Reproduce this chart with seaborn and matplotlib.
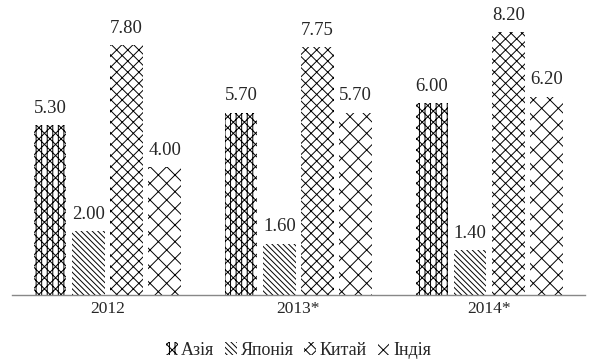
import seaborn as sns
import matplotlib.pyplot as plt
import pandas as pd

years = ['2012', '2013*', '2014*']
regions = ['Азія', 'Японія', 'Китай', 'Індія']
asia = [5.30, 5.70, 6.00]
japan = [2.00, 1.60, 1.40]
china = [7.80, 7.75, 8.20]
india = [4.00, 5.70, 6.20]

df = pd.DataFrame({
    'year': years * 4,
    'region': [r for r in regions for _ in years],
    'value': asia + japan + china + india,
})

sns.set_style('white')
plt.rcParams['font.family'] = ['Liberation Serif', 'DejaVu Serif']
plt.rcParams['hatch.linewidth'] = 0.7

fig = plt.figure(figsize=(5.98, 3.62), dpi=100)
ax = fig.add_axes([0.02, 0.185, 0.958, 0.796])
sns.barplot(data=df, x='year', y='value', hue='region', order=years, hue_order=regions,
            color='white', width=0.8, gap=0.15, ax=ax, legend=True)

hatches = ['|||xxx', '\\' * 6, 'xxx', 'xx']
for cont, h in zip(ax.containers, hatches):
    for bar in cont:
        bar.set_hatch(h)
        bar.set_facecolor('white')
        bar.set_edgecolor('black')
        bar.set_linewidth(0)
    ax.bar_label(cont, fmt='%.2f', padding=6, fontsize=13.5)

ax.set_ylim(0, 9)
ax.set_xlim(-0.5, 2.5)
ax.set_yticks([])
ax.set_xlabel('')
ax.set_ylabel('')
ax.tick_params(axis='x', length=0, labelsize=12.5, pad=4)
for s in ['top', 'right', 'left']:
    ax.spines[s].set_visible(False)
ax.spines['bottom'].set_color('#888888')
ax.spines['bottom'].set_linewidth(1)

handles, labels = ax.get_legend_handles_labels()
for hd, h in zip(handles, hatches):
    hd.set_hatch(h)
    hd.set_facecolor('white')
    hd.set_edgecolor('black')
    hd.set_linewidth(0)
ax.legend(handles, labels, loc='upper center', bbox_to_anchor=(0.5, -0.105), ncol=4,
          frameon=False, fontsize=13, handlelength=0.65, handleheight=0.75,
          handletextpad=0.2, columnspacing=0.6)

fig.savefig('out.png', dpi=100)
